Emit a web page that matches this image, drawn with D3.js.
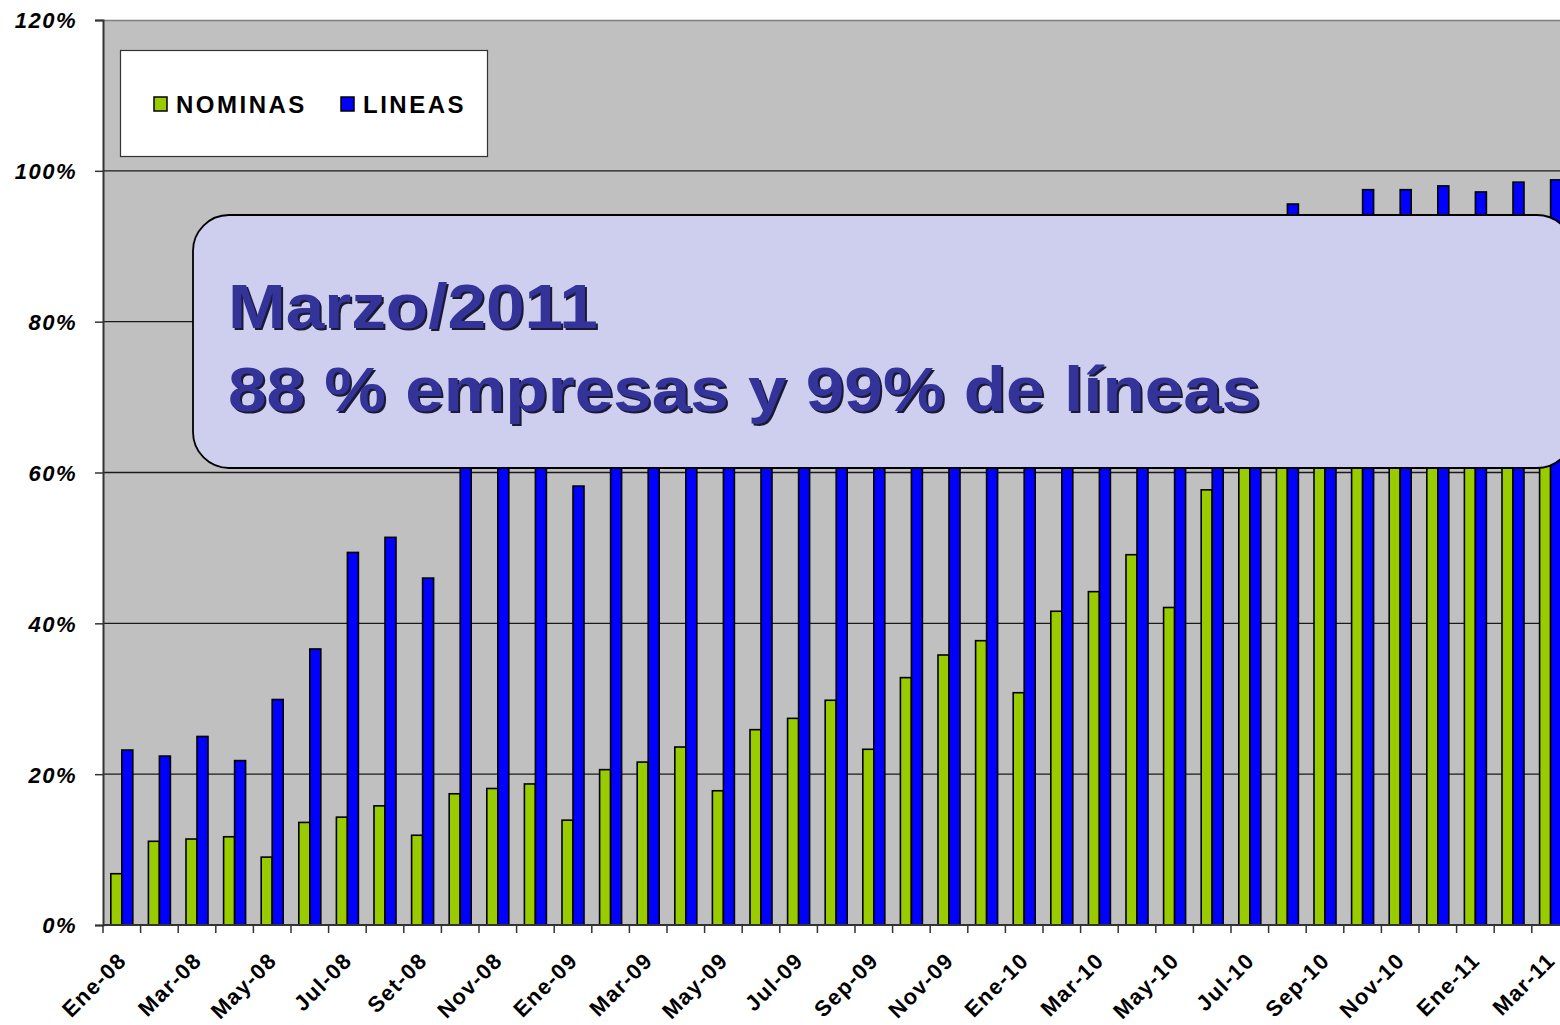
<!DOCTYPE html>
<html>
<head>
<meta charset="utf-8">
<script src="https://cdn.jsdelivr.net/npm/d3@7"></script>
<style>
  body { margin: 0; background: #fff; }
  svg { display: block; }
</style>
</head>
<body>
<div id="chart"></div>
<script>
// months on the x axis
var months = ["Ene-08","Feb-08","Mar-08","Abr-08","May-08","Jun-08","Jul-08","Ago-08","Set-08","Oct-08","Nov-08","Dic-08",
              "Ene-09","Feb-09","Mar-09","Abr-09","May-09","Jun-09","Jul-09","Ago-09","Sep-09","Oct-09","Nov-09","Dic-09",
              "Ene-10","Feb-10","Mar-10","Abr-10","May-10","Jun-10","Jul-10","Ago-10","Sep-10","Oct-10","Nov-10","Dic-10",
              "Ene-11","Feb-11","Mar-11"];

// % of companies (NOMINAS)
var nominas = [6.8, 11.1, 11.4, 11.7, 9.0, 13.6, 14.3, 15.8, 11.9, 17.4, 18.1, 18.7,
               13.9, 20.6, 21.6, 23.6, 17.8, 25.9, 27.4, 29.8, 23.3, 32.8, 35.8, 37.7,
               30.8, 41.6, 44.2, 49.1, 42.1, 57.7, 63, 66, 70, 73, 76, 79,
               82, 85, 88];

// % of lines (LINEAS)
var lineas = [23.2, 22.4, 25.0, 21.8, 29.9, 36.6, 49.4, 51.4, 46.0, 66, 70, 73,
              58.2, 75, 78, 80, 79, 82, 84, 85, 83, 86, 88, 89,
              86, 90, 91, 92, 91, 93, 93, 95.6, 93.5, 97.5, 97.5, 98.0,
              97.2, 98.5, 98.8];

var yTicks = [0, 20, 40, 60, 80, 100, 120];
var seriesNames = ["NOMINAS", "LINEAS"];
var seriesKeys = ["nominas", "lineas"];

var W = 1560, H = 1025;
var plotLeft = 103, plotTop = 20, plotBottom = 925;
var step = 37.6;
var plotRight = plotLeft + months.length * step;

var svg = d3.select("#chart").append("svg")
    .attr("width", W)
    .attr("height", H);

var x = d3.scaleBand()
    .domain(months)
    .range([plotLeft, plotRight])
    .paddingInner(0.415)
    .paddingOuter(0.2075);

var xSub = d3.scaleBand()
    .domain(seriesKeys)
    .range([0, x.bandwidth()]);

var y = d3.scaleLinear()
    .domain([0, 120])
    .range([plotBottom, plotTop]);

var color = d3.scaleOrdinal()
    .domain(seriesKeys)
    .range(["#99CC00", "#0000FF"]);

var rows = months.map(function(m, i) {
    return {month: m, nominas: nominas[i], lineas: lineas[i]};
});

// plot area
svg.append("rect")
    .attr("x", plotLeft).attr("y", plotTop)
    .attr("width", plotRight - plotLeft).attr("height", plotBottom - plotTop)
    .attr("fill", "#C0C0C0");

svg.append("line")
    .attr("x1", plotLeft).attr("x2", plotRight)
    .attr("y1", plotTop + 0.5).attr("y2", plotTop + 0.5)
    .attr("stroke", "#808080").attr("stroke-width", 1.5);

// gridlines
svg.append("g")
    .selectAll("line")
    .data(yTicks.filter(function(d) { return d > 0 && d < 120; }))
    .enter().append("line")
    .attr("x1", plotLeft).attr("x2", plotRight)
    .attr("y1", function(d) { return y(d); })
    .attr("y2", function(d) { return y(d); })
    .attr("stroke", "#1a1a1a").attr("stroke-width", 1.3);

// bars
svg.append("g")
    .selectAll("g")
    .data(rows)
    .enter().append("g")
    .attr("transform", function(d) { return "translate(" + x(d.month) + ",0)"; })
    .selectAll("rect")
    .data(function(d) { return seriesKeys.map(function(k) { return {key: k, value: d[k]}; }); })
    .enter().append("rect")
    .attr("x", function(d) { return xSub(d.key); })
    .attr("y", function(d) { return y(d.value); })
    .attr("width", xSub.bandwidth())
    .attr("height", function(d) { return plotBottom - y(d.value); })
    .attr("fill", function(d) { return color(d.key); })
    .attr("stroke", "#000")
    .attr("stroke-width", 1.6);

// y axis
var yAxis = svg.append("g")
    .attr("transform", "translate(" + plotLeft + ",0)")
    .call(d3.axisLeft(y).tickValues(yTicks).tickSize(8).tickPadding(18)
        .tickFormat(function(d) { return d + "%"; }));
yAxis.select(".domain").attr("stroke", "#333").attr("stroke-width", 2);
yAxis.selectAll(".tick line").attr("stroke", "#333").attr("stroke-width", 1.5);
yAxis.selectAll(".tick text")
    .attr("fill", "#000")
    .style("font-family", "'Liberation Sans', Arial, sans-serif")
    .style("font-size", "22px")
    .style("font-weight", "bold")
    .style("font-style", "italic")
    .style("letter-spacing", "1.5px")
    .attr("dy", "0.36em");

// x axis line and boundary ticks
svg.append("line")
    .attr("x1", plotLeft).attr("x2", plotRight)
    .attr("y1", plotBottom).attr("y2", plotBottom)
    .attr("stroke", "#333").attr("stroke-width", 2);

svg.append("g")
    .selectAll("line")
    .data(months.concat(["end"]))
    .enter().append("line")
    .attr("x1", function(d, i) { return plotLeft + i * x.step(); })
    .attr("x2", function(d, i) { return plotLeft + i * x.step(); })
    .attr("y1", plotBottom).attr("y2", plotBottom + 8)
    .attr("stroke", "#333").attr("stroke-width", 1.5);

// x labels, every other month
var xAxis = svg.append("g")
    .attr("transform", "translate(0," + plotBottom + ")")
    .call(d3.axisBottom(x).tickSize(0)
        .tickValues(months.filter(function(d, i) { return i % 2 === 0; })));
xAxis.select(".domain").remove();
xAxis.selectAll(".tick text")
    .attr("fill", "#000")
    .style("font-family", "'Liberation Sans', Arial, sans-serif")
    .style("font-size", "22px")
    .style("font-weight", "bold")
    .style("letter-spacing", "1.3px")
    .attr("text-anchor", "end")
    .attr("y", 0)
    .attr("dy", 0)
    .attr("transform", "translate(6,37) rotate(-45)");

// legend
var legend = svg.append("g");
legend.append("rect")
    .attr("x", 120.5).attr("y", 50.5)
    .attr("width", 367).attr("height", 106)
    .attr("fill", "#fff").attr("stroke", "#333").attr("stroke-width", 1.2);

var legendX = [154, 341];
seriesKeys.forEach(function(k, i) {
    legend.append("rect")
        .attr("x", legendX[i]).attr("y", 97)
        .attr("width", 13).attr("height", 14)
        .attr("fill", color(k)).attr("stroke", "#000").attr("stroke-width", 1.5);
    legend.append("text")
        .attr("x", legendX[i] + 22).attr("y", 112.5)
        .style("font-family", "'Liberation Sans', Arial, sans-serif")
        .style("font-size", "24px")
        .style("font-weight", "bold")
        .style("letter-spacing", "2.5px")
        .text(seriesNames[i]);
});

// callout box
svg.append("rect")
    .attr("x", 193).attr("y", 215)
    .attr("width", 1380).attr("height", 253)
    .attr("rx", 36).attr("ry", 36)
    .attr("fill", "#CECFEE")
    .attr("stroke", "#000").attr("stroke-width", 1.8);

var calloutLines = ["Marzo/2011", "88 % empresas y 99% de líneas"];
var callout = svg.append("g");
calloutLines.forEach(function(t, i) {
    var by = 328 + i * 83;
    [["#1a1a33", 2], ["#333399", 0]].forEach(function(s) {
        callout.append("text")
            .attr("transform", "translate(" + (228 + s[1]) + "," + (by + s[1]) + ") scale(1.1,1)")
            .style("font-family", "'Liberation Sans', Arial, sans-serif")
            .style("font-size", "63px")
            .style("font-weight", "bold")
            .attr("fill", s[0])
            .text(t);
    });
});
</script>
</body>
</html>
